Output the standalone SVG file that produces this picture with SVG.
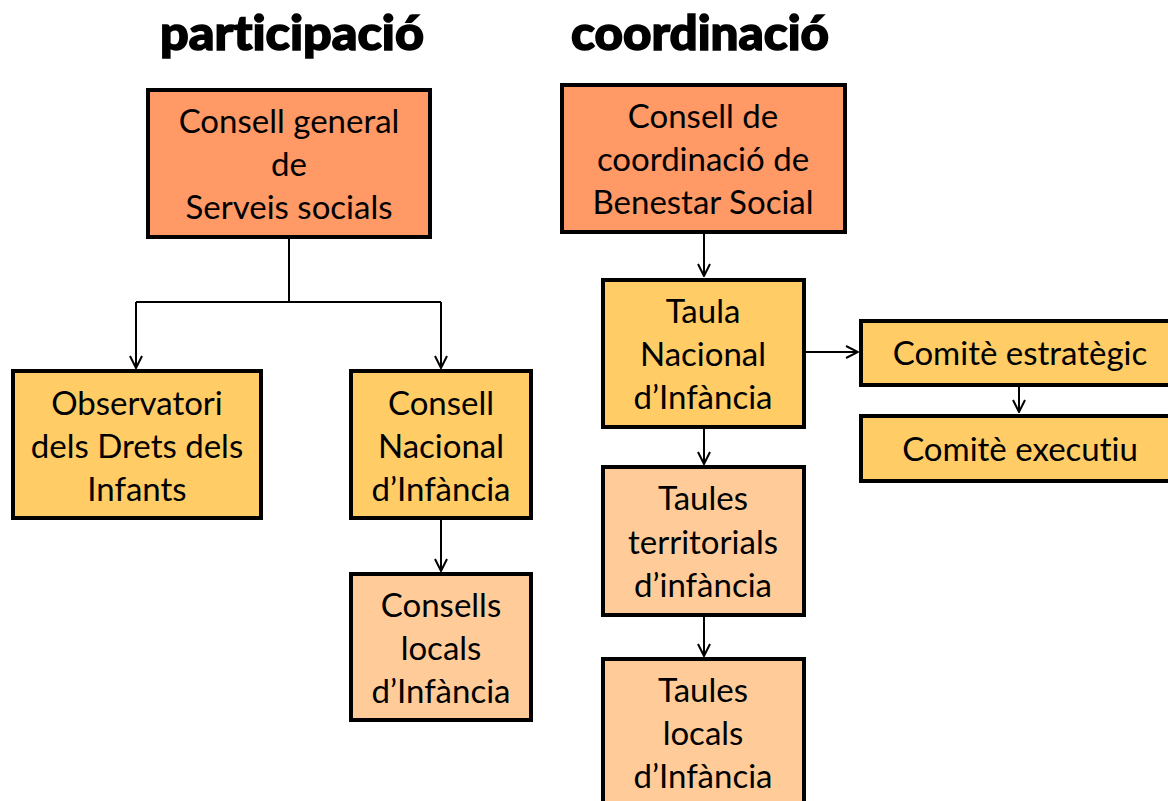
<svg xmlns="http://www.w3.org/2000/svg" width="1168" height="801" viewBox="0 0 1168 801">
<defs>
<style>
.b{stroke:#000;stroke-width:4}
.o{fill:#FF9966}
.y{fill:#FFCC66}
.p{fill:#FFCC99}
.t{font-family:Lato,"Open Sans",sans-serif;font-size:33px;fill:#000;text-anchor:middle;font-variant-ligatures:none}
.h{font-family:Lato,"DejaVu Sans",sans-serif;font-weight:900;font-size:48px;fill:#000;text-anchor:middle;font-variant-ligatures:none;stroke:#000;stroke-width:1.5}
.c{stroke:#000;stroke-width:2;fill:none}
</style>
<marker id="a" viewBox="0 0 14 14" refX="13" refY="7" markerWidth="14" markerHeight="14" markerUnits="userSpaceOnUse" orient="auto">
<path d="M1,1 L13,7 L1,13" fill="none" stroke="#000" stroke-width="2"/>
</marker>
</defs>
<rect width="1168" height="801" fill="#fff"/>
<text class="h" x="292" y="50" textLength="264" lengthAdjust="spacingAndGlyphs">participació</text>
<text class="h" x="700" y="50" textLength="258" lengthAdjust="spacingAndGlyphs">coordinació</text>
<g id="connectors">
<path class="c" d="M289,237 V302 M136,302 H441"/>
<path class="c" d="M136,302 V368" marker-end="url(#a)"/>
<path class="c" d="M441,302 V368" marker-end="url(#a)"/>
<path class="c" d="M441,518 V571" marker-end="url(#a)"/>
<path class="c" d="M704,232 V276" marker-end="url(#a)"/>
<path class="c" d="M704,427 V464" marker-end="url(#a)"/>
<path class="c" d="M704,615 V656" marker-end="url(#a)"/>
<path class="c" d="M806,352 H858" marker-end="url(#a)"/>
<path class="c" d="M1019,385 V412" marker-end="url(#a)"/>
</g>
<g id="n1"><rect class="b o" x="148" y="90" width="282" height="147"/>
<text class="t" x="289" y="133">Consell general</text><text class="t" x="289" y="176">de</text><text class="t" x="289" y="219">Serveis socials</text></g>
<g id="n2"><rect class="b y" x="13" y="371" width="248" height="147"/>
<text class="t" x="137" y="415">Observatori</text><text class="t" x="137" y="458">dels Drets dels</text><text class="t" x="137" y="501">Infants</text></g>
<g id="n3"><rect class="b y" x="351" y="371" width="180" height="147"/>
<text class="t" x="441" y="415">Consell</text><text class="t" x="441" y="458">Nacional</text><text class="t" x="441" y="501">d’Infància</text></g>
<g id="n4"><rect class="b p" x="351" y="574" width="180" height="146"/>
<text class="t" x="441" y="617">Consells</text><text class="t" x="441" y="660">locals</text><text class="t" x="441" y="703">d’Infància</text></g>
<g id="n5"><rect class="b o" x="562" y="85" width="283" height="147"/>
<text class="t" x="703" y="128">Consell de</text><text class="t" x="703" y="171">coordinació de</text><text class="t" x="703" y="214">Benestar Social</text></g>
<g id="n6"><rect class="b y" x="603" y="280" width="201" height="147"/>
<text class="t" x="703" y="323">Taula</text><text class="t" x="703" y="366">Nacional</text><text class="t" x="703" y="409">d’Infància</text></g>
<g id="n7"><rect class="b y" x="861" y="321" width="312" height="64"/>
<text class="t" x="1020" y="365">Comitè estratègic</text></g>
<g id="n8"><rect class="b y" x="861" y="416" width="312" height="65"/>
<text class="t" x="1020" y="461">Comitè executiu</text></g>
<g id="n9"><rect class="b p" x="603" y="467" width="201" height="148"/>
<text class="t" x="703" y="510">Taules</text><text class="t" x="703" y="554">territorials</text><text class="t" x="703" y="597">d’infància</text></g>
<g id="n10"><rect class="b p" x="603" y="659" width="201" height="150"/>
<text class="t" x="703" y="702">Taules</text><text class="t" x="703" y="745">locals</text><text class="t" x="703" y="788">d’Infància</text></g>
</svg>
